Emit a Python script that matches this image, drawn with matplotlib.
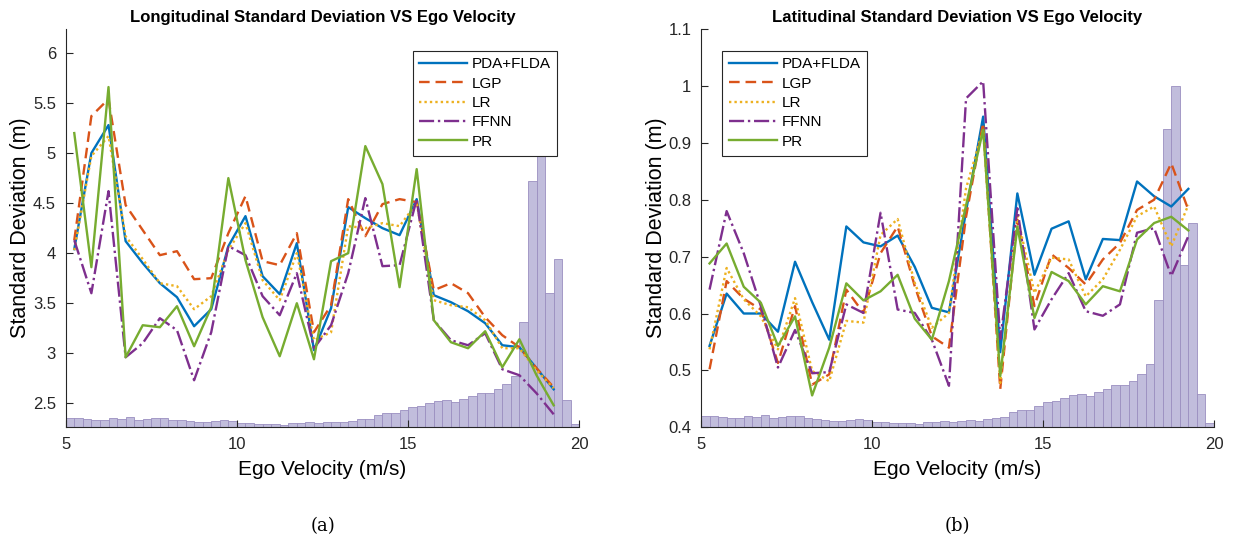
import numpy as np
import matplotlib
matplotlib.use("Agg")
import matplotlib.pyplot as plt

plt.rcParams["font.family"] = ["Liberation Sans", "DejaVu Sans"]

# Ego velocity bin centres (m/s)
velocity = [5.25, 5.75, 6.25, 6.75, 7.25, 7.75, 8.25, 8.75, 9.25, 9.75,
            10.25, 10.75, 11.25, 11.75, 12.25, 12.75, 13.25, 13.75, 14.25, 14.75,
            15.25, 15.75, 16.25, 16.75, 17.25, 17.75, 18.25, 18.75, 19.25]

methods = ["PDA+FLDA", "LGP", "LR", "FFNN", "PR"]

# Longitudinal standard deviation (m)
lon_pda = [4.04, 5.00, 5.28, 4.12, 3.90, 3.70, 3.56, 3.27, 3.44, 4.07, 4.37, 3.77, 3.59, 4.10, 3.03,
           3.45, 4.46, 4.35, 4.25, 4.18, 4.54, 3.58, 3.51, 3.42, 3.30, 3.08, 3.06, 2.85, 2.64]
lon_lgp = [4.13, 5.37, 5.54, 4.48, 4.23, 3.98, 4.02, 3.74, 3.75, 4.20, 4.57, 3.92, 3.88, 4.20, 3.21,
           3.48, 4.54, 4.17, 4.49, 4.54, 4.51, 3.63, 3.70, 3.60, 3.36, 3.18, 3.06, 2.85, 2.66]
lon_lr = [4.03, 4.97, 5.17, 4.17, 3.94, 3.70, 3.67, 3.44, 3.57, 4.03, 4.30, 3.73, 3.53, 4.00, 3.13,
          3.21, 4.27, 4.25, 4.30, 4.27, 4.50, 3.53, 3.48, 3.46, 3.33, 3.05, 3.05, 2.83, 2.65]
lon_ffnn = [4.13, 3.60, 4.62, 2.96, 3.10, 3.35, 3.23, 2.73, 3.21, 4.07, 3.98, 3.57, 3.38, 3.80, 3.05,
            3.28, 3.80, 4.55, 3.87, 3.88, 4.54, 3.33, 3.13, 3.08, 3.20, 2.84, 2.78, 2.60, 2.39]
lon_pr = [5.20, 3.86, 5.66, 2.96, 3.28, 3.26, 3.47, 3.07, 3.46, 4.75, 3.93, 3.36, 2.97, 3.50, 2.94,
          3.92, 4.00, 5.07, 4.69, 3.66, 4.84, 3.33, 3.11, 3.05, 3.22, 2.86, 3.14, 2.78, 2.48]

# Latitudinal standard deviation (m)
lat_pda = [0.543, 0.635, 0.600, 0.600, 0.568, 0.691, 0.620, 0.554, 0.753, 0.725, 0.718, 0.737, 0.682, 0.610, 0.602,
           0.780, 0.946, 0.532, 0.811, 0.668, 0.749, 0.762, 0.660, 0.731, 0.729, 0.832, 0.806, 0.788, 0.819]
lat_lgp = [0.502, 0.657, 0.626, 0.607, 0.513, 0.613, 0.475, 0.493, 0.642, 0.601, 0.706, 0.753, 0.648, 0.560, 0.540,
           0.770, 0.935, 0.467, 0.765, 0.613, 0.704, 0.680, 0.651, 0.695, 0.724, 0.782, 0.800, 0.864, 0.782]
lat_lr = [0.537, 0.680, 0.625, 0.595, 0.537, 0.627, 0.499, 0.481, 0.587, 0.584, 0.738, 0.766, 0.654, 0.575, 0.601,
          0.820, 0.923, 0.478, 0.771, 0.636, 0.698, 0.695, 0.630, 0.660, 0.712, 0.771, 0.788, 0.718, 0.791]
lat_ffnn = [0.642, 0.780, 0.706, 0.613, 0.505, 0.571, 0.495, 0.497, 0.616, 0.601, 0.777, 0.607, 0.601, 0.554, 0.473,
            0.978, 1.008, 0.555, 0.785, 0.572, 0.625, 0.671, 0.604, 0.596, 0.616, 0.742, 0.750, 0.666, 0.736]
lat_pr = [0.688, 0.723, 0.647, 0.619, 0.543, 0.595, 0.456, 0.540, 0.653, 0.623, 0.639, 0.668, 0.591, 0.554, 0.657,
          0.790, 0.923, 0.490, 0.753, 0.592, 0.673, 0.657, 0.616, 0.648, 0.639, 0.730, 0.759, 0.770, 0.746]

# Ego velocity distribution, 0.25 m/s bins from 5 to 20 (relative counts)
hist_counts = [11, 11, 10, 9, 9, 11, 10, 12, 9.3, 10.3, 11, 11, 9.3, 8.3, 7.3, 6.7, 6.7, 7.7, 8.3, 7.3,
               5, 5, 4, 4, 4, 3, 5, 5, 6, 5.3, 6, 7, 6, 8, 9.5, 10.5, 15, 17, 17, 21,
               25.3, 26.3, 29, 32, 33, 31, 35, 38, 42, 42, 46, 53, 63, 128, 299, 342, 163, 205, 33, 4]
hist_edges = np.linspace(5, 20, 61)

colors = ["#0072BD", "#D95319", "#EDB120", "#7E2F8E", "#77AC30"]
styles = ["-", (0, (4.5, 2.5)), (0, (1, 1.3)), "-.", "-"]

panels = [
    dict(title="Longitudinal Standard Deviation VS Ego Velocity",
         series=[lon_pda, lon_lgp, lon_lr, lon_ffnn, lon_pr],
         ylim=(2.26, 6.24), yticks=[2.5, 3, 3.5, 4, 4.5, 5, 5.5, 6], hist_top=5.07,
         pos=[0.0532, 0.2013, 0.4159, 0.7445], leg_loc="upper right", leg_anchor=(0.972, 0.965),
         caption="(a)"),
    dict(title="Latitudinal Standard Deviation VS Ego Velocity",
         series=[lat_pda, lat_lgp, lat_lr, lat_ffnn, lat_pr],
         ylim=(0.4, 1.1), yticks=[0.4, 0.5, 0.6, 0.7, 0.8, 0.9, 1.0, 1.1], hist_top=1.0,
         pos=[0.5676, 0.2013, 0.4154, 0.7445], leg_loc="upper left", leg_anchor=(0.027, 0.965),
         caption="(b)"),
]

fig = plt.figure(figsize=(12.35, 5.35), dpi=100)

for p in panels:
    ax = fig.add_axes(p["pos"])
    ymin, ymax = p["ylim"]

    # histogram of ego velocity, scaled into the data range
    counts = np.array(hist_counts)
    heights = counts / counts.max() * (p["hist_top"] - ymin)
    ax.bar(hist_edges[:-1], heights, width=0.25, align="edge", bottom=ymin,
           color="#c1bddc", edgecolor="#9a8fc0", linewidth=0.6, zorder=1)

    for vals, name, c, ls in zip(p["series"], methods, colors, styles):
        ax.plot(velocity, vals, color=c, linestyle=ls, linewidth=1.7, label=name, zorder=3)

    ax.set_xlim(5, 20)
    ax.set_ylim(ymin, ymax)
    ax.set_xticks([5, 10, 15, 20])
    ax.set_yticks(p["yticks"])
    ax.set_yticklabels([f"{t:g}" for t in p["yticks"]])
    ax.tick_params(direction="in", length=5, width=0.8, labelsize=12, colors="#262626", pad=7)
    for s in ["top", "right"]:
        ax.spines[s].set_visible(False)
    for s in ["left", "bottom"]:
        ax.spines[s].set_color("#262626")
        ax.spines[s].set_linewidth(0.8)
        ax.spines[s].set_zorder(4)

    ax.set_title(p["title"], fontsize=12, fontweight="bold", pad=5)
    ax.set_xlabel("Ego Velocity (m/s)", fontsize=15, labelpad=6)
    ax.set_ylabel("Standard Deviation (m)", fontsize=15.5, labelpad=1)

    leg = ax.legend(loc=p["leg_loc"], bbox_to_anchor=p["leg_anchor"], fontsize=11,
                    handlelength=3.1, labelspacing=0.35, borderpad=0.45, handletextpad=0.3,
                    fancybox=False, framealpha=1, edgecolor="#262626")
    leg.get_frame().set_linewidth(0.8)
    leg.set_zorder(5)

    ax.text(0.5, -0.225, p["caption"], transform=ax.transAxes, ha="center", va="top",
            fontsize=13, family=["DejaVu Serif"])

fig.savefig("out.png", dpi=100)
